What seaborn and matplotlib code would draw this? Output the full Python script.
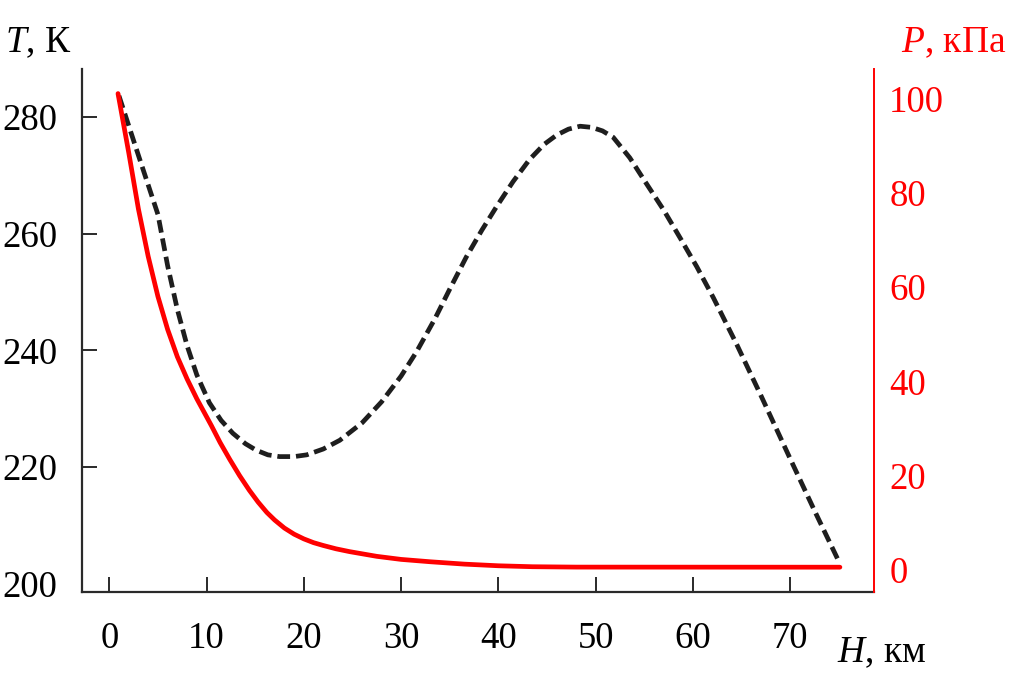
import matplotlib
matplotlib.use("Agg")
import matplotlib.pyplot as plt
import seaborn as sns
import pandas as pd

# Temperature profile (dashed black)
h_temp = [1.0, 3.0, 5.0, 6.0, 7.0, 8.0, 9.0, 10.3, 11.5, 12.7, 14.0, 15.1, 16.3,
          17.5, 19.0, 20.3, 22.0, 23.7, 26.0, 28.0, 30.0, 31.6, 33.5, 35.0, 36.7,
          38.3, 39.8, 41.5, 43.2, 44.7, 46.0, 47.2, 48.4, 49.6, 50.7, 51.8, 53.5,
          55.2, 57.0, 58.7, 60.4, 62.1, 64.5, 67.0, 70.0, 72.5, 75.0]
temp_k = [283.6, 273.4, 263.3, 254.5, 247.0, 240.8, 235.8, 231.0, 228.0, 225.8,
          224.0, 222.9, 222.1, 221.8, 221.8, 222.1, 223.1, 224.6, 227.6, 231.2,
          235.6, 239.8, 245.5, 250.5, 256.0, 260.6, 264.6, 268.9, 272.7, 275.3,
          276.9, 277.9, 278.4, 278.2, 277.6, 276.5, 273.0, 268.6, 264.0, 259.2,
          254.3, 249.0, 241.0, 232.2, 221.4, 212.5, 203.8]

# Pressure profile (red)
h_pres = [0.9, 2.0, 3.0, 4.0, 5.0, 6.0, 7.0, 8.0, 9.0, 9.5, 10.5, 11.4, 12.4,
          13.4, 14.4, 15.3, 16.2, 17.0, 18.0, 19.0, 20.0, 21.0, 22.0, 23.3, 24.7,
          27.5, 30.0, 33.0, 36.5, 40.0, 43.5, 48.0, 75.1]
pres_kpa = [101.0, 88.5, 76.5, 66.5, 58.0, 51.0, 45.2, 40.5, 36.3, 34.4, 30.6,
            27.0, 23.4, 20.0, 16.9, 14.4, 12.2, 10.6, 8.9, 7.6, 6.6, 5.8, 5.2,
            4.5, 3.9, 2.9, 2.25, 1.75, 1.25, 0.9, 0.7, 0.62, 0.6]

x_ticks = [0, 10, 20, 30, 40, 50, 60, 70]
t_ticks = [200, 220, 240, 260, 280]
p_ticks = [0, 20, 40, 60, 80, 100]

sns.set_theme(style="ticks")
plt.rcParams["font.family"] = ["Liberation Serif", "DejaVu Serif"]
plt.rcParams["mathtext.fontset"] = "custom"
plt.rcParams["mathtext.rm"] = "Liberation Serif"
plt.rcParams["mathtext.it"] = "Liberation Serif:italic"

FS = 27
TFS = 26.5
RED = "#ff0000"
DARK = "#2a2a2a"

fig = plt.figure(figsize=(10.1, 6.8), dpi=100)
ax = fig.add_axes([0.0812, 0.1294, 0.8653 - 0.0812, 0.8985 - 0.1294])
ax2 = ax.twinx()

df_t = pd.DataFrame({"H": h_temp, "T": temp_k})
df_p = pd.DataFrame({"H": h_pres, "P": pres_kpa})

sns.lineplot(data=df_t, x="H", y="T", ax=ax, color="#1e1e1e", lw=3.4,
             sort=False, estimator=None)
ax.lines[0].set_dashes((2.7, 1.25))
ax.lines[0].set_dash_capstyle("butt")
sns.lineplot(data=df_p, x="H", y="P", ax=ax2, color=RED, lw=3.4,
             sort=False, estimator=None)
ax2.lines[0].set_solid_joinstyle("round")

ax.set_xlim(-2.8, 78.6)
ax.set_ylim(198.6, 288.2)
ax2.set_ylim(-4.66, 106.2)

ax.set_xticks(x_ticks)
ax.set_yticks(t_ticks)
ax2.set_yticks(p_ticks)
ax.set_xlabel("")
ax.set_ylabel("")
ax2.set_ylabel("")

for a in (ax, ax2):
    a.spines["top"].set_visible(False)
ax2.spines["left"].set_visible(False)
ax2.spines["bottom"].set_visible(False)
ax.spines["right"].set_visible(False)
ax.spines["left"].set_color(DARK)
ax.spines["bottom"].set_color(DARK)
ax.spines["left"].set_linewidth(1.6)
ax.spines["bottom"].set_linewidth(1.6)
ax2.spines["right"].set_color(RED)
ax2.spines["right"].set_linewidth(1.4)

ax.tick_params(axis="both", direction="in", length=10.5, width=1.4,
               color=DARK, labelsize=TFS, labelcolor="black")
ax.tick_params(axis="y", pad=18)
ax.tick_params(axis="x", pad=21)
ax.yaxis.get_major_ticks()[0].tick1line.set_visible(False)
ax2.tick_params(axis="y", length=0, labelsize=TFS, labelcolor=RED, pad=11)

fig.text(0.005, 0.937, "$T$, К", fontsize=FS, color="black", ha="left", va="center")
fig.text(0.996, 0.937, "$P$, кПа", fontsize=FS, color=RED, ha="right", va="center")
fig.text(0.917, 0.04, "$H$, км", fontsize=FS, color="black", ha="right", va="center")

fig.savefig("out.png", dpi=100)
